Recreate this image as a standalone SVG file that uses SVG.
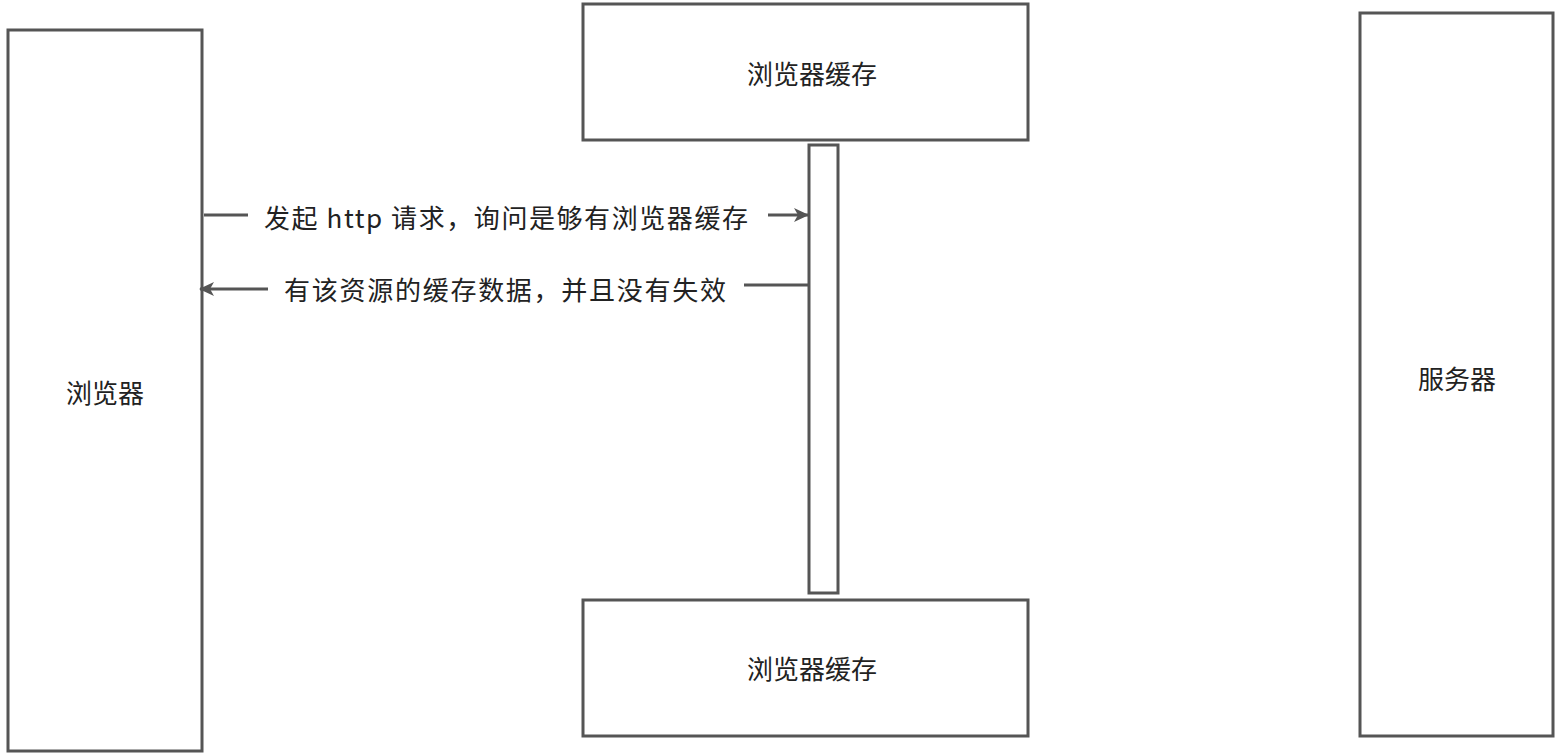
<svg xmlns="http://www.w3.org/2000/svg" width="1562" height="756" viewBox="0 0 1562 756">
<style>
.box{fill:#fff;stroke:#555;stroke-width:3}
.t{font-family:"Noto Sans CJK SC","Liberation Sans",sans-serif;font-size:26px;fill:#222;text-anchor:middle;dominant-baseline:central}
.c{stroke:#555;stroke-width:3;fill:none}
</style>
<defs><marker id="a" markerWidth="16" markerHeight="14" refX="14" refY="7" orient="auto" markerUnits="userSpaceOnUse"><path d="M0,0 L15,7 L0,14 L4,7 Z" fill="#555"/></marker></defs>
<rect width="1562" height="756" fill="#fff"/>
<g id="browser"><rect class="box" x="8" y="30" width="194" height="721"/><text class="t" x="105" y="391">浏览器</text></g>
<g id="cache-top"><rect class="box" x="583" y="4" width="445" height="136"/><text class="t" x="812" y="72">浏览器缓存</text></g>
<g id="lifeline"><rect class="box" x="809" y="145" width="29" height="448"/></g>
<g id="cache-bottom"><rect class="box" x="583" y="600" width="445" height="136"/><text class="t" x="812" y="667">浏览器缓存</text></g>
<g id="server"><rect class="box" x="1360" y="13" width="193" height="723"/><text class="t" x="1457" y="377">服务器</text></g>
<g id="connectors">
<line class="c" x1="204" y1="215" x2="248" y2="215"/>
<line class="c" x1="768" y1="215" x2="808" y2="215" marker-end="url(#a)"/>
<line class="c" x1="808" y1="285" x2="744" y2="285"/>
<line class="c" x1="268" y1="289" x2="200" y2="289" marker-end="url(#a)"/>
<text class="t" x="506" y="216" textLength="484" lengthAdjust="spacing">发起 http 请求，询问是够有浏览器缓存</text>
<text class="t" x="505" y="288" textLength="442" lengthAdjust="spacing">有该资源的缓存数据，并且没有失效</text>
</g>
</svg>
